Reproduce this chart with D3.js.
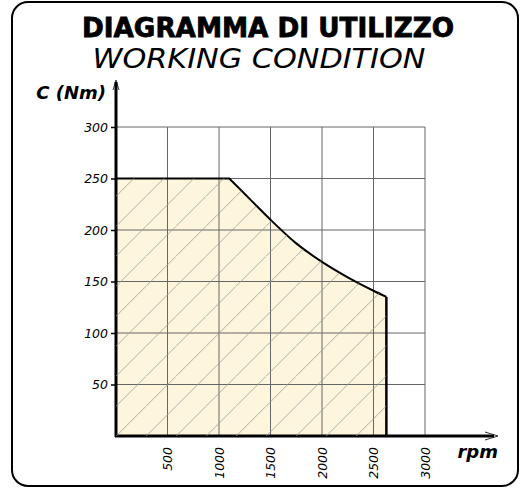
<!DOCTYPE html>
<html>
<head>
<meta charset="utf-8">
<script src="https://cdn.jsdelivr.net/npm/d3@7"></script>
<style>
  body { margin: 0; background: #fff; }
  text { font-family: "DejaVu Sans", sans-serif; }
</style>
</head>
<body>
<svg id="chart" width="527" height="489"></svg>
<script>
// data
var rpm    = [0, 1100, 1300, 1500, 1750, 2000, 2250, 2500, 2625];
var torque = [250, 250, 230, 210, 187, 169, 154, 141, 135];
var xTicks = [500, 1000, 1500, 2000, 2500, 3000];
var yTicks = [50, 100, 150, 200, 250, 300];

var svg = d3.select("#chart");
var margin = {left: 116, top: 127};

var x = d3.scaleLinear().domain([0, 3000]).range([0, 309]);
var y = d3.scaleLinear().domain([0, 300]).range([309, 0]);

// frame
svg.append("rect")
    .attr("x", 12).attr("y", 2)
    .attr("width", 506).attr("height", 484)
    .attr("rx", 16).attr("ry", 16)
    .attr("fill", "none").attr("stroke", "#000").attr("stroke-width", 2);

// title
svg.append("text")
    .attr("x", 268).attr("y", 37)
    .attr("text-anchor", "middle")
    .attr("font-size", 26).attr("font-weight", "bold")
    .attr("stroke", "#000").attr("stroke-width", 0.8)
    .attr("textLength", 372).attr("lengthAdjust", "spacingAndGlyphs")
    .text("DIAGRAMMA DI UTILIZZO");
svg.append("text")
    .attr("x", 259).attr("y", 68)
    .attr("text-anchor", "middle")
    .attr("font-size", 27).attr("font-style", "italic")
    .attr("textLength", 333).attr("lengthAdjust", "spacingAndGlyphs")
    .text("WORKING CONDITION");

// hatch pattern
var defs = svg.append("defs");
defs.append("pattern")
    .attr("id", "hatch")
    .attr("patternUnits", "userSpaceOnUse")
    .attr("width", 30).attr("height", 30)
  .append("path")
    .attr("d", "M0,9.3L9.3,0M9.3,30L30,9.3")
    .attr("stroke", "#999").attr("stroke-width", 0.8).attr("fill", "none");

var g = svg.append("g")
    .attr("transform", "translate(" + margin.left + "," + margin.top + ")");

var pts = rpm.map(function(d, i) { return [d, torque[i]]; });
// flat part is straight, the falling part is smooth
var flat = pts.slice(0, 2);
var fall = pts.slice(1);

var line = d3.line()
    .x(function(d) { return x(d[0]); })
    .y(function(d) { return y(d[1]); });
var curveLine = d3.line()
    .x(function(d) { return x(d[0]); })
    .y(function(d) { return y(d[1]); })
    .curve(d3.curveMonotoneX);

var last = pts[pts.length - 1];
var outline = line(flat) + curveLine(fall).replace(/^M[^C]*?(?=C)/, "");
var areaPath = "M" + x(0) + "," + y(0) + "L" + outline.slice(1) +
    "L" + x(last[0]) + "," + y(0) + "Z";

g.append("path")
    .attr("d", areaPath)
    .attr("fill", "#fdf6dc");

// grid
g.selectAll(".vgrid").data(xTicks).enter().append("line")
    .attr("class", "vgrid")
    .attr("x1", function(d) { return x(d); }).attr("x2", function(d) { return x(d); })
    .attr("y1", y(300)).attr("y2", y(0))
    .attr("stroke", "#666").attr("stroke-width", 1);
g.selectAll(".hgrid").data(yTicks).enter().append("line")
    .attr("class", "hgrid")
    .attr("x1", x(0)).attr("x2", x(3000))
    .attr("y1", function(d) { return y(d); }).attr("y2", function(d) { return y(d); })
    .attr("stroke", "#666").attr("stroke-width", 1);

// hatch over the fill
svg.append("path")
    .attr("transform", "translate(" + margin.left + "," + margin.top + ")")
    .attr("d", areaPath)
    .attr("fill", "url(#hatch)");

// outline
g.append("path")
    .attr("d", outline)
    .attr("fill", "none").attr("stroke", "#000").attr("stroke-width", 2)
    .attr("stroke-linejoin", "miter");
g.append("line")
    .attr("x1", x(last[0])).attr("x2", x(last[0]))
    .attr("y1", y(last[1])).attr("y2", y(0))
    .attr("stroke", "#000").attr("stroke-width", 2.5);

// y axis
var yAxis = d3.axisLeft(y).tickValues(yTicks).tickSize(5).tickPadding(3);
var ya = g.append("g").call(yAxis);
ya.select(".domain").remove();
ya.selectAll("line").attr("stroke", "#000").attr("stroke-width", 1.5);
ya.selectAll("text")
    .attr("font-size", 12.5).attr("font-style", "italic")
    .attr("fill", "#000");

// x axis labels
var xAxis = d3.axisBottom(x).tickValues(xTicks).tickSize(0).tickFormat(d3.format("d"));
var xa = g.append("g").attr("transform", "translate(0," + y(0) + ")").call(xAxis);
xa.select(".domain").remove();
xa.selectAll("text")
    .attr("font-size", 12.5).attr("font-style", "italic")
    .attr("fill", "#000")
    .attr("transform", "rotate(-90)")
    .attr("text-anchor", "end")
    .attr("x", -11).attr("y", 0).attr("dy", "0.35em");

// axis lines with arrows
g.append("line")
    .attr("x1", 0).attr("x2", 0).attr("y1", y(0) + 1).attr("y2", -45)
    .attr("stroke", "#000").attr("stroke-width", 3);
g.append("path")
    .attr("d", "M-3,-37L0,-47L3,-37")
    .attr("fill", "none").attr("stroke", "#000").attr("stroke-width", 0.8);
g.append("line")
    .attr("x1", -1).attr("x2", 378).attr("y1", y(0)).attr("y2", y(0))
    .attr("stroke", "#000").attr("stroke-width", 3);
g.append("path")
    .attr("d", "M369,305L382,309L369,313")
    .attr("fill", "none").attr("stroke", "#000").attr("stroke-width", 0.8);

// axis titles
svg.append("text")
    .attr("x", 106).attr("y", 99)
    .attr("text-anchor", "end")
    .attr("font-size", 18).attr("font-weight", "bold").attr("font-style", "italic")
    .text("C (Nm)");
svg.append("text")
    .attr("x", 498).attr("y", 458)
    .attr("text-anchor", "end")
    .attr("font-size", 18).attr("font-weight", "bold").attr("font-style", "italic")
    .text("rpm");
</script>
</body>
</html>
